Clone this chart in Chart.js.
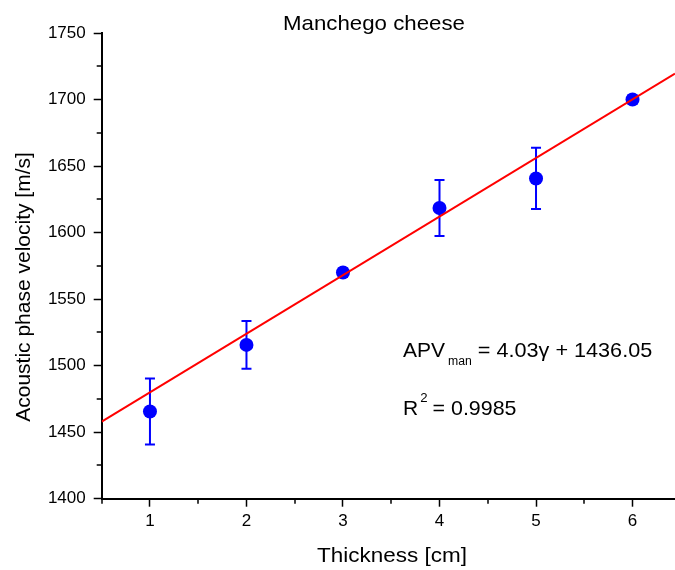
<!DOCTYPE html>
<html>
<head>
<meta charset="utf-8">
<script src="https://cdn.jsdelivr.net/npm/chart.js@4/dist/chart.umd.min.js"></script>
<style>
  html, body { margin: 0; padding: 0; background: #fff; }
  canvas { display: block; }
</style>
</head>
<body>
<canvas id="chart" width="675" height="570"></canvas>
<script>
// thickness [cm] and measured velocity [m/s]
const thickness = [1, 2, 3, 4, 5, 6];
const velocity = [1465.5, 1515.6, 1570, 1618.5, 1640.7, 1700];
const velocityErr = [24.8, 18, 3, 21, 23, 3];

// linear fit endpoints
const fitX = [0.5, 6.44];
const fitY = [1458, 1719.5];

const xTicks = [1, 2, 3, 4, 5, 6];
const xMinor = [0.5, 1.5, 2.5, 3.5, 4.5, 5.5];
const yTicks = [1400, 1450, 1500, 1550, 1600, 1650, 1700, 1750];
const yMinor = [1425, 1475, 1525, 1575, 1625, 1675, 1725];

const FONT = "'Liberation Sans', Arial, sans-serif";

// horizontal text, slightly stretched like the original export
function stretchedText (ctx, text, x, y, size, sx, align) {
  ctx.save();
  ctx.font = size + 'px ' + FONT;
  ctx.textAlign = align || 'left';
  ctx.translate(x, y);
  ctx.scale(sx, 1);
  ctx.fillText(text, 0, 0);
  const w = ctx.measureText(text).width * sx;
  ctx.restore();
  return w;
}

const errorBars = {
  id: 'errorBars',
  beforeDatasetsDraw (chart) {
    const { ctx, scales: { x, y } } = chart;
    ctx.save();
    ctx.strokeStyle = '#0000ff';
    ctx.lineWidth = 2;
    thickness.forEach((t, i) => {
      const px = x.getPixelForValue(t);
      const top = y.getPixelForValue(velocity[i] + velocityErr[i]);
      const bot = y.getPixelForValue(velocity[i] - velocityErr[i]);
      ctx.beginPath();
      ctx.moveTo(px, top); ctx.lineTo(px, bot);
      ctx.moveTo(px - 5, top); ctx.lineTo(px + 5, top);
      ctx.moveTo(px - 5, bot); ctx.lineTo(px + 5, bot);
      ctx.stroke();
    });
    ctx.restore();
  }
};

const extras = {
  id: 'extras',
  afterDraw (chart) {
    const { ctx, scales: { x, y }, chartArea } = chart;
    ctx.save();
    // minor ticks
    ctx.strokeStyle = '#000';
    ctx.lineWidth = 1.5;
    ctx.beginPath();
    xMinor.forEach(v => {
      const px = Math.round(x.getPixelForValue(v));
      ctx.moveTo(px, chartArea.bottom); ctx.lineTo(px, chartArea.bottom + 5);
    });
    yMinor.forEach(v => {
      const py = Math.round(y.getPixelForValue(v));
      ctx.moveTo(chartArea.left, py); ctx.lineTo(chartArea.left - 5, py);
    });
    ctx.stroke();

    ctx.fillStyle = '#000';
    ctx.textBaseline = 'alphabetic';
    stretchedText(ctx, 'Manchego cheese', 374, 30, 21, 1.06, 'center');
    stretchedText(ctx, 'Thickness [cm]', 392, 562, 21, 1.07, 'center');

    ctx.save();
    ctx.font = '21px ' + FONT;
    ctx.textAlign = 'center';
    ctx.translate(30, 287);
    ctx.rotate(-Math.PI / 2);
    ctx.fillText('Acoustic phase velocity [m/s]', 0, 0);
    ctx.restore();

    // fit equation
    let cx = 403;
    cx += stretchedText(ctx, 'APV', cx, 357, 21, 1, 'left');
    cx += 3;
    cx += stretchedText(ctx, 'man', cx, 364.5, 12, 1.02, 'left');
    cx += 6;
    stretchedText(ctx, '= 4.03\u03b3 + 1436.05', cx, 357, 21, 1.03, 'left');

    cx = 403;
    cx += stretchedText(ctx, 'R', cx, 415, 21, 1, 'left');
    cx += 2;
    cx += stretchedText(ctx, '2', cx, 402, 12, 1.1, 'left');
    cx += 5;
    stretchedText(ctx, '= 0.9985', cx, 415, 21, 1.02, 'left');
    ctx.restore();
  }
};

const plainTick = v => String(v);

new Chart(document.getElementById('chart').getContext('2d'), {
  type: 'scatter',
  data: {
    datasets: [
      {
        type: 'line',
        data: fitX.map((v, i) => ({ x: v, y: fitY[i] })),
        borderColor: '#ff0000',
        borderWidth: 2,
        pointRadius: 0,
        fill: false,
        order: 0
      },
      {
        data: thickness.map((v, i) => ({ x: v, y: velocity[i] })),
        backgroundColor: '#0000ff',
        borderWidth: 0,
        pointRadius: 7,
        order: 1
      }
    ]
  },
  options: {
    responsive: false,
    animation: false,
    layout: { autoPadding: false, padding: { top: 33, right: 0, left: 0, bottom: 0 } },
    plugins: { legend: { display: false }, tooltip: { enabled: false } },
    scales: {
      x: {
        type: 'linear',
        min: 0.5,
        max: 6.44,
        afterBuildTicks: s => { s.ticks = xTicks.map(v => ({ value: v })); },
        afterFit: s => { s.height = 71.3; s.paddingLeft = 0; s.paddingRight = 0; },
        grid: { drawOnChartArea: false, tickLength: 8, tickColor: '#000', tickWidth: 1.5 },
        border: { color: '#000', width: 2 },
        ticks: { color: '#000', padding: 4, font: { family: FONT, size: 17 }, callback: plainTick }
      },
      y: {
        min: 1400,
        max: 1750,
        afterBuildTicks: s => { s.ticks = yTicks.map(v => ({ value: v })); },
        afterFit: s => { s.width = 101.7; s.paddingTop = 0; s.paddingBottom = 0; },
        grid: { drawOnChartArea: false, tickLength: 8, tickColor: '#000', tickWidth: 1.5 },
        border: { color: '#000', width: 2 },
        ticks: { color: '#000', padding: 8, font: { family: FONT, size: 17 }, callback: plainTick }
      }
    }
  },
  plugins: [errorBars, extras]
});
</script>
</body>
</html>
